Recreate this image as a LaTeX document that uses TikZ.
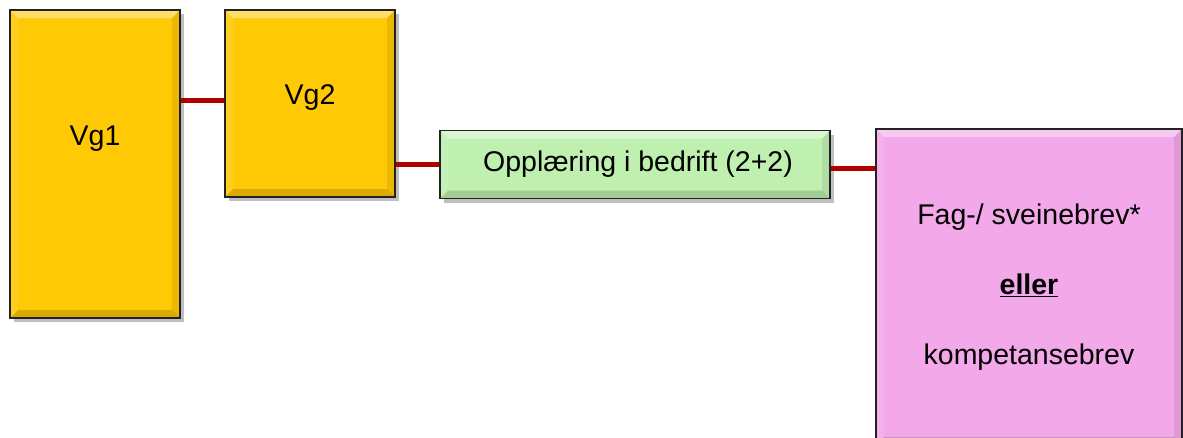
\documentclass[tikz,border=0pt]{standalone}
\usepackage{fontspec}
\setmainfont{Liberation Sans}
\usepackage{tikz}
\usetikzlibrary{shadows}

\definecolor{vgyellow}{HTML}{FFC905}
\definecolor{otbgreen}{HTML}{BFF0B0}
\definecolor{brevpink}{HTML}{F2A8E9}
\definecolor{linkred}{HTML}{B00000}
\definecolor{boxline}{HTML}{222222}

\tikzset{
  boxfont/.style={font=\fontsize{28.5}{34}\selectfont},
  bevelbox/.style={draw=boxline, line width=1.8pt, inner sep=0pt, boxfont,
    drop shadow={shadow xshift=4pt, shadow yshift=-4pt, fill=black, opacity=0.25},
    path picture={
      % light top edge
      \fill[white, opacity=0.4]
        (path picture bounding box.north west) -- (path picture bounding box.north east)
        -- ([xshift=-8pt,yshift=-8pt]path picture bounding box.north east)
        -- ([xshift=8pt,yshift=-8pt]path picture bounding box.north west) -- cycle;
      % dark bottom edge
      \fill[black, opacity=0.15]
        (path picture bounding box.south west) -- (path picture bounding box.south east)
        -- ([xshift=-8pt,yshift=8pt]path picture bounding box.south east)
        -- ([xshift=8pt,yshift=8pt]path picture bounding box.south west) -- cycle;
      % shaded right edge
      \fill[black, opacity=0.08]
        (path picture bounding box.north east) -- (path picture bounding box.south east)
        -- ([xshift=-8pt,yshift=8pt]path picture bounding box.south east)
        -- ([xshift=-8pt,yshift=-8pt]path picture bounding box.north east) -- cycle;
      % lighter left edge
      \fill[white, opacity=0.1]
        (path picture bounding box.north west) -- (path picture bounding box.south west)
        -- ([xshift=8pt,yshift=8pt]path picture bounding box.south west)
        -- ([xshift=8pt,yshift=-8pt]path picture bounding box.north west) -- cycle;
    }},
  link/.style={draw=linkred, line width=5pt}
}

\begin{document}
\begin{tikzpicture}[x=1pt, y=-1pt]
  \useasboundingbox (0,0) rectangle (1183,437);
  \clip (0,0) rectangle (1183,437);
  % Vg boxes
  \node[bevelbox, fill=vgyellow, minimum width=170pt, minimum height=308pt,
    label={[boxfont, yshift=25pt]center:Vg1}] (vg1) at (95,164) {};
  \node[bevelbox, fill=vgyellow, minimum width=170pt, minimum height=187pt,
    label={[boxfont, yshift=6pt]center:Vg2}] (vg2) at (310,103.5) {};
  % apprenticeship
  \node[bevelbox, fill=otbgreen, minimum width=390pt, minimum height=68pt] (otb) at (635,164.5)
    {\hspace{6pt}Oppl\ae ring i bedrift (2+2)};
  % certificate
  \node[bevelbox, fill=brevpink, minimum width=306pt, minimum height=316pt, align=center] (brev) at (1029,287)
    {Fag-/ sveinebrev*\\[36pt] \underline{\textbf{eller}}\\[36pt] kompetansebrev};
  % connectors
  \draw[link] (vg1.east |- 0,100) -- (vg2.west |- 0,100);
  \draw[link] (vg2.east |- otb.west) -- (otb.west);
  \draw[link] (otb.east |- 0,168) -- (brev.west |- 0,168);
\end{tikzpicture}
\end{document}
